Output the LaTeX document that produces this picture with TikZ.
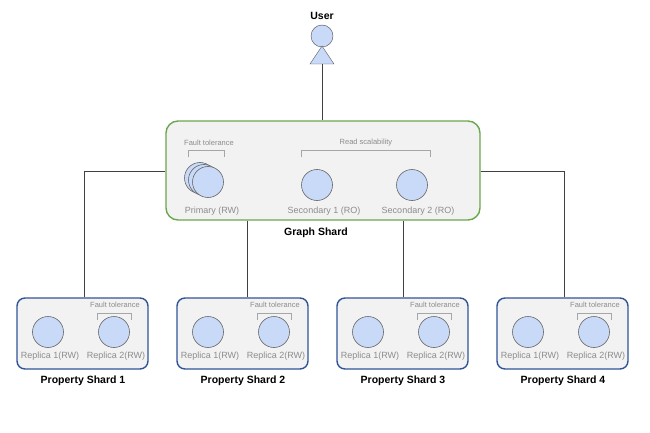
\documentclass[tikz,border=0pt]{standalone}
\usepackage{fontspec}
\setmainfont{Liberation Sans}
\begin{document}
\begin{tikzpicture}[x=1pt,y=-1pt,
  circ/.style={circle,draw=gray!80!black,fill=cblue,minimum size=31pt,inner sep=0pt,line width=0.6pt},
  lab/.style={text=gray!90,font=\fontsize{9}{10}\selectfont},
  small/.style={text=gray!90,font=\fontsize{7.5}{8}\selectfont},
  title/.style={font=\bfseries\fontsize{10.5}{11}\selectfont},
  brk/.style={draw=gray!70,line width=0.8pt},
  conn/.style={draw=gray!50!black,line width=0.7pt},
  pbox/.style={draw=pblue,fill=gray!10,rounded corners=8pt,line width=1.4pt}]
\definecolor{cblue}{HTML}{C9DAF8}
\definecolor{pblue}{HTML}{2F5597}
\definecolor{gshard}{HTML}{6AA84F}
\useasboundingbox (0,0) rectangle (650,433);
% user
\node[circle,draw=gray!60!black,fill=cblue,minimum size=22pt,inner sep=0pt] (uhead) at (322,36) {};
\draw[draw=gray!60!black,fill=cblue] (322,46) -- (334,64) -- (310,64) -- cycle;
\coordinate (ufoot) at (322,64);
\node[title] (ulab) at (322,16) {User};
% graph shard
\node[draw=gshard,fill=gray!10,rounded corners=12pt,line width=1.4pt,minimum width=314pt,minimum height=99pt,inner sep=0pt] (gs) at (323,170.5) {};
\draw[conn] (ufoot) -- (ufoot |- gs.north);
\node[small] (gft) at (209,143) {Fault tolerance};
\draw[brk] (188,157) -- (188,150) -- (224,150) -- (224,157);
\node[small] (grs) at (366,143) {Read scalability};
\draw[brk] (301,157) -- (301,150) -- (430,150) -- (430,157);
\node[circ] (p1) at (200,178) {};
\node[circ] (p2) at (204,180) {};
\node[circ] (p3) at (208,182) {};
\node[lab] (pl) at (212,211) {Primary (RW)};
\node[circ] (s1) at (317,185) {};
\node[lab] (s1l) at (324,211) {Secondary 1 (RO)};
\node[circ] (s2) at (412,185) {};
\node[lab] (s2l) at (418,211) {Secondary 2 (RO)};
\node[title] (gsl) at (316,233) {Graph Shard};
% property shards
\foreach \i/\xo in {1/17,2/177,3/337,4/497}{
  \node[pbox,minimum width=131pt,minimum height=71pt,inner sep=0pt] (ps\i) at (\xo+65.5,333.5) {};
  \node[circ] (r1\i) at (\xo+31,332) {};
  \node[circ] (r2\i) at (\xo+97,332) {};
  \node[lab] at (\xo+33,356) {Replica 1(RW)};
  \node[lab] at (\xo+99,356) {Replica 2(RW)};
  \node[small] at (\xo+98,305) {Fault tolerance};
  \draw[brk] (\xo+80,320) -- (\xo+80,313) -- (\xo+114,313) -- (\xo+114,320);
  \node[title] at (\xo+66,381) {Property Shard \i};
}
\draw[conn] (gs.west |- 0,171) -| (ps1.north -| 84,0);
\draw[conn] (gs.east |- 0,171) -| (ps4.north -| 564,0);
\draw[conn] (gs.south -| 247,0) -- (ps2.north -| 247,0);
\draw[conn] (gs.south -| 403,0) -- (ps3.north -| 403,0);
\end{tikzpicture}
\end{document}
